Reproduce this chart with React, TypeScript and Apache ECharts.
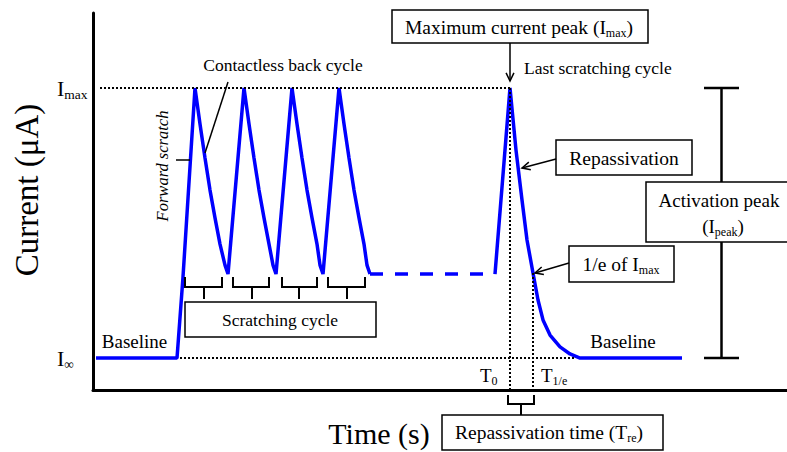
import React, { useEffect, useRef } from 'react';
import * as echarts from 'echarts';

// ---- Data (time in s, current normalised: I∞ = 0, Imax = 1) ----
const scratchTime = [
  3, 84, 90,
  102, 107, 112, 117, 122, 127, 132, 135,
  151, 156, 161, 166, 171, 176, 180, 183,
  199, 204, 209, 214, 219, 224, 227, 230,
  246, 251, 256, 261, 266, 271, 274, 277,
];
const scratchCurrent = [
  0, 0, 0.30,
  1, 0.867, 0.741, 0.622, 0.519, 0.422, 0.344, 0.311,
  1, 0.867, 0.741, 0.622, 0.519, 0.422, 0.344, 0.311,
  1, 0.867, 0.741, 0.622, 0.519, 0.422, 0.344, 0.311,
  1, 0.867, 0.741, 0.622, 0.519, 0.422, 0.344, 0.311,
];
const gapTime = [277, 402];
const gapCurrent = [0.311, 0.311];
const lastTime = [402, 417, 423, 429, 434, 440, 445, 450, 457, 467, 477, 487, 589];
const lastCurrent = [0.311, 1, 0.77, 0.585, 0.437, 0.315, 0.215, 0.141, 0.085, 0.041, 0.015, 0, 0];
const yTickValues = [0, 1];
const yTickLabels = ['∞', 'max'];
const imaxRef = [[7, 1], [417, 1]];
const iinfRef = [[87, 0], [482, 0]];
const t0Ref = [[417, 1], [417, -0.1185]];
const t1eRef = [[440, 0.315], [440, -0.1185]];

const FONT = "'Liberation Serif', 'Times New Roman', serif";
const BLUE = '#0000ff';

const zip = (a: number[], b: number[]) => a.map((v, i) => [v, b[i]]);

function richStyle(main: number, sub: number, pad: number) {
  return {
    m: { fontSize: main, fontFamily: FONT, color: '#000', fill: '#000' },
    s: { fontSize: sub, fontFamily: FONT, color: '#000', fill: '#000', padding: [pad, 0, 0, 0] },
  };
}

function txt(x: number, y: number, text: string, size: number, extra: any = {}) {
  return {
    type: 'text', x, y, z: 100,
    style: { text, fontSize: size, fontFamily: FONT, fill: '#000', align: 'center', verticalAlign: 'middle', ...extra },
  };
}
function rtxt(x: number, y: number, text: string, main: number, sub: number, pad: number, align = 'center') {
  return {
    type: 'text', x, y, z: 100,
    style: { text, fill: '#000', align, verticalAlign: 'middle', rich: richStyle(main, sub, pad) },
  };
}
function box(x: number, y: number, w: number, h: number) {
  return { type: 'rect', z: 90, shape: { x, y, width: w, height: h }, style: { fill: '#fff', stroke: '#000', lineWidth: 1.5 } };
}
function ln(x1: number, y1: number, x2: number, y2: number, w = 1.5) {
  return { type: 'line', z: 95, shape: { x1, y1, x2, y2 }, style: { stroke: '#000', lineWidth: w } };
}
function pl(points: number[][], w = 2) {
  return { type: 'polyline', z: 95, shape: { points }, style: { stroke: '#000', lineWidth: w, fill: null } };
}
function arrow(x1: number, y1: number, x2: number, y2: number) {
  const ang = Math.atan2(y2 - y1, x2 - x1);
  const L = 9, a = 0.45;
  const p1 = [x2 - L * Math.cos(ang - a), y2 - L * Math.sin(ang - a)];
  const p2 = [x2 - L * Math.cos(ang + a), y2 - L * Math.sin(ang + a)];
  return [ln(x1, y1, x2, y2, 1.5), pl([p1, [x2, y2], p2], 1.5)];
}
function brace(x1: number, x2: number, xm: number, top: number, mid: number, bot: number) {
  return [pl([[x1, top], [x1, mid], [x2, mid], [x2, top]], 2), ln(xm, mid, xm, bot, 2)];
}

export default function App() {
  const ref = useRef<HTMLDivElement>(null);
  useEffect(() => {
    if (!ref.current) return;
    const chart = echarts.init(ref.current, undefined, { renderer: 'svg' });
    const dotted = { color: '#000', width: 2, type: [2, 2] };
    const graphic: any[] = [
      // axis titles
      { type: 'text', x: 27, y: 190, rotation: Math.PI / 2, z: 100,
        style: { text: 'Current (μA)', fontSize: 33, fontFamily: FONT, fill: '#000', align: 'center', verticalAlign: 'middle' } },
      txt(379, 433, 'Time (s)', 30),
      // scratching annotations
      txt(283, 65, 'Contactless back cycle', 17.5),
      ln(228, 82, 205, 153),
      { type: 'text', x: 162, y: 166, rotation: Math.PI / 2, z: 100,
        style: { text: 'Forward scratch', fontSize: 16.5, fontStyle: 'italic', fontFamily: FONT, fill: '#000', align: 'center', verticalAlign: 'middle' } },
      ln(176, 160, 190, 160),
      ...brace(185, 222, 204, 277, 287, 299),
      ...brace(233, 269, 252, 277, 287, 299),
      ...brace(282, 317, 299, 277, 287, 299),
      ...brace(328, 365, 347, 277, 287, 299),
      box(185, 302, 191, 35),
      txt(280, 320, 'Scratching cycle', 17.5),
      txt(134.5, 341, 'Baseline', 19),
      txt(623, 341, 'Baseline', 19),
      // maximum current peak
      box(392, 10, 256, 33),
      rtxt(519, 27, '{m|Maximum current peak (I}{s|max}{m|)}', 19.5, 12, 11),
      ...arrow(510, 43, 510, 81),
      txt(524, 68, 'Last scratching cycle', 17.5, { align: 'left' }),
      // repassivation
      box(556, 140, 136, 35),
      txt(624, 158, 'Repassivation', 19.5),
      ...arrow(556, 159, 522, 168),
      // 1/e
      box(569, 246, 105, 36),
      rtxt(621, 264, '{m|1/e of I}{s|max}', 19.5, 12, 11),
      ...arrow(569, 263, 535, 273),
      // activation peak I-beam
      ln(704, 88, 739, 88, 2.5),
      ln(704, 358, 739, 358, 2.5),
      ln(721.5, 88, 721.5, 182, 2.5),
      ln(721.5, 242, 721.5, 358, 2.5),
      box(646, 182, 150, 60),
      txt(719, 200, 'Activation peak', 19),
      rtxt(723, 226, '{m|(I}{s|peak}{m|)}', 19, 12, 11),
      // T labels
      rtxt(480, 375, '{m|T}{s|0}', 19, 12, 11, 'left'),
      rtxt(541, 375, '{m|T}{s|1/e}', 19, 12, 11, 'left'),
      // repassivation time
      ...brace(508, 534, 521, 395, 404, 415),
      box(442, 415, 221, 35),
      rtxt(549, 432.5, '{m|Repassivation time (T}{s|re}{m|)}', 19.5, 12, 11),
    ];
    chart.setOption({
      animation: false,
      backgroundColor: '#fff',
      grid: { left: 93, right: 0, top: 13, bottom: 62, containLabel: false, outerBoundsMode: 'none' },
      xAxis: {
        type: 'value', min: 0, max: 694,
        axisLine: { show: true, onZero: false, lineStyle: { color: '#000', width: 3 } },
        axisTick: { show: false }, axisLabel: { show: false }, splitLine: { show: false },
      },
      yAxis: {
        type: 'value', min: -0.1185, max: 1.2778,
        axisLine: { show: true, onZero: false, lineStyle: { color: '#000', width: 3 } },
        axisTick: { show: false }, splitLine: { show: false },
        axisLabel: {
          customValues: yTickValues,
          align: 'left',
          margin: 36,
          fontSize: 22,
          fontFamily: FONT,
          color: '#000',
          formatter: (v: number) => {
            const i = yTickValues.findIndex((t) => Math.abs(t - v) < 1e-6);
            return i < 0 ? '' : '{m|I}{s|' + yTickLabels[i] + '}';
          },
          rich: {
            m: { fontSize: 22, fontFamily: FONT, color: '#000' },
            s: { fontSize: 13.5, fontFamily: FONT, color: '#000', padding: [12, 0, 0, 0] },
          },
        },
      },
      series: [
        { type: 'line', data: zip(scratchTime, scratchCurrent), symbol: 'none', silent: true, z: 3, lineStyle: { color: BLUE, width: 3.5 } },
        { type: 'line', data: zip(gapTime, gapCurrent), symbol: 'none', silent: true, z: 3, lineStyle: { color: BLUE, width: 3.5, type: [13, 12] } },
        { type: 'line', data: zip(lastTime, lastCurrent), symbol: 'none', silent: true, z: 3, lineStyle: { color: BLUE, width: 3.5 } },
        { type: 'line', data: imaxRef, symbol: 'none', silent: true, z: 4, lineStyle: dotted },
        { type: 'line', data: iinfRef, symbol: 'none', silent: true, z: 4, lineStyle: dotted },
        { type: 'line', data: t0Ref, symbol: 'none', silent: true, z: 4, lineStyle: dotted },
        { type: 'line', data: t1eRef, symbol: 'none', silent: true, z: 4, lineStyle: dotted },
      ],
      graphic,
    });
    return () => chart.dispose();
  }, []);
  return <div ref={ref} style={{ position: 'absolute', left: 0, top: 0, width: 787, height: 452 }} />;
}
